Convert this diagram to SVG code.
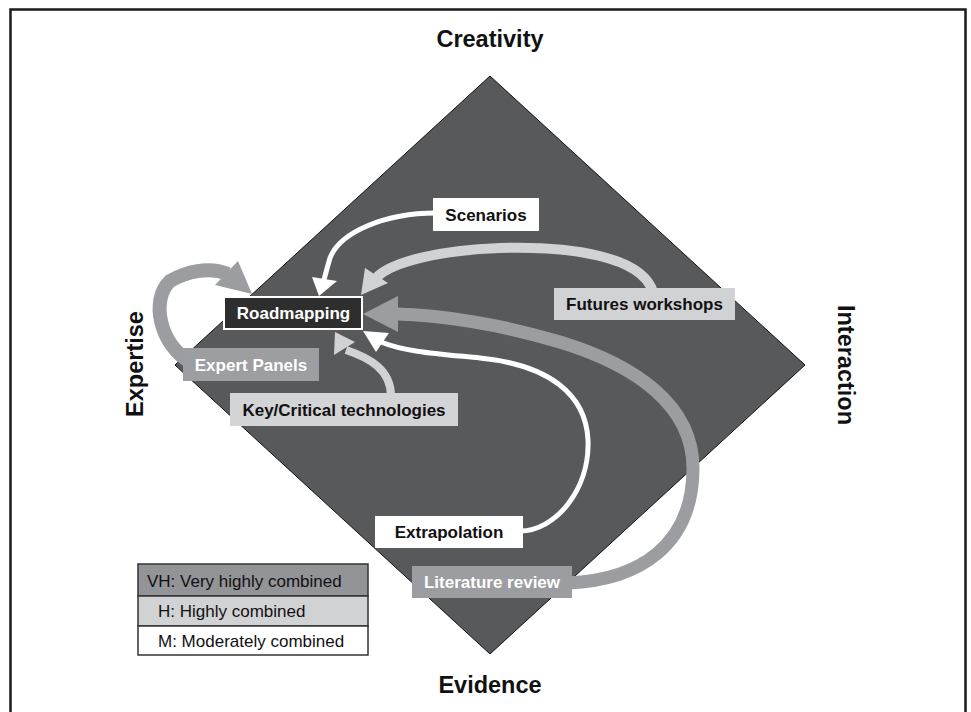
<svg xmlns="http://www.w3.org/2000/svg" width="971" height="712" viewBox="0 0 971 712">
<style>
.lbl{font-family:"Liberation Sans",Arial,sans-serif;font-weight:bold;font-size:23.5px;fill:#111;text-anchor:middle}
.nt{font-family:"Liberation Sans",Arial,sans-serif;font-weight:bold;font-size:17px;text-anchor:middle}
.lg{font-family:"Liberation Sans",Arial,sans-serif;font-size:17px;fill:#111}
.band{fill:none;stroke-linecap:butt}
.wb{stroke:#ffffff;stroke-width:5}
.lb{stroke:#d1d2d4;stroke-width:10}
.mb{stroke:#9c9da0;stroke-width:13}
.wh{fill:#ffffff}
.lh{fill:#d1d2d4}
.mh{fill:#9c9da0}
</style>
<rect x="10.5" y="9.5" width="955" height="720" fill="#ffffff" stroke="#1a1a1a" stroke-width="2.5"/>
<polygon id="diamond" points="490,76 805,365 490,654 175,365" fill="#58595b" stroke="#111" stroke-width="1"/>
<g id="axis-labels">
<text class="lbl" x="490" y="47">Creativity</text>
<text class="lbl" x="490" y="693">Evidence</text>
<text class="lbl" transform="translate(838,365) rotate(90)">Interaction</text>
<text class="lbl" transform="translate(143,364) rotate(-90)">Expertise</text>
</g>
<g id="connectors">
<path class="band wb" d="M 436 213 C 385 213, 340 232, 330 258 C 328 265, 326 272, 324 280"/>
<polygon class="wh" points="312,277 337,281 319,296"/>
<path class="band lb" d="M 653 292 C 642 256, 570 246, 500 248 C 440 250, 392 262, 377 277"/>
<polygon class="lh" points="365,268 388,283 361,295"/>
<path class="band mb" d="M 568 583 C 640 580, 692 545, 693 470 C 694 405, 635 365, 560 342 C 500 324, 440 315, 396 314"/>
<polygon class="mh" points="398,296 398,332 363,314"/>
<path class="band wb" d="M 520 531 C 555 531, 590 490, 588 440 C 586 395, 550 365, 480 358 C 440 354, 405 352, 381 342"/>
<polygon class="wh" points="389,333 376,352 363,331"/>
<path class="band lb" style="stroke-width:8" d="M 391 396 C 391 370, 370 358, 346 350"/>
<polygon class="lh" points="355,342 334,355 335,332"/>
<path class="band mb" style="stroke-width:14" d="M 190 362 C 160 345, 150 300, 170 281 C 186 272, 208 266, 228 274"/>
<polygon class="mh" points="238,261 215,285 252,294"/>
</g>
<g id="node-scenarios">
<rect x="433" y="198" width="106" height="33" fill="#ffffff"/>
<text class="nt" x="486" y="221" fill="#111">Scenarios</text>
</g>
<g id="node-futures">
<rect x="554" y="288" width="181" height="32" fill="#d1d2d4"/>
<text class="nt" x="644.5" y="310" fill="#111">Futures workshops</text>
</g>
<g id="node-roadmapping">
<rect x="224" y="297" width="138" height="32" fill="#2e2e2e" stroke="#ffffff" stroke-width="2"/>
<text class="nt" x="293.5" y="319" fill="#ffffff">Roadmapping</text>
</g>
<g id="node-expert">
<rect x="183" y="348" width="136" height="33" fill="#9d9ea1"/>
<text class="nt" x="251" y="371" fill="#ffffff">Expert Panels</text>
</g>
<g id="node-key">
<rect x="230" y="393" width="228" height="33" fill="#d3d4d6"/>
<text class="nt" x="344" y="416" fill="#111">Key/Critical technologies</text>
</g>
<g id="node-extrapolation">
<rect x="375" y="516" width="148" height="32" fill="#ffffff"/>
<text class="nt" x="449" y="538" fill="#111">Extrapolation</text>
</g>
<g id="node-literature">
<rect x="412" y="566" width="160" height="32" fill="#9c9da0"/>
<text class="nt" x="492" y="588" fill="#ffffff">Literature review</text>
</g>
<g id="legend">
<rect x="138" y="564" width="230" height="32" fill="#939497" stroke="#333" stroke-width="1.5"/>
<rect x="138" y="596" width="230" height="30" fill="#d1d2d4" stroke="#333" stroke-width="1.5"/>
<rect x="138" y="626" width="230" height="29" fill="#ffffff" stroke="#333" stroke-width="1.5"/>
<text class="lg" x="147" y="587">VH: Very highly combined</text>
<text class="lg" x="158" y="617">H: Highly combined</text>
<text class="lg" x="158" y="647">M: Moderately combined</text>
</g>
</svg>
